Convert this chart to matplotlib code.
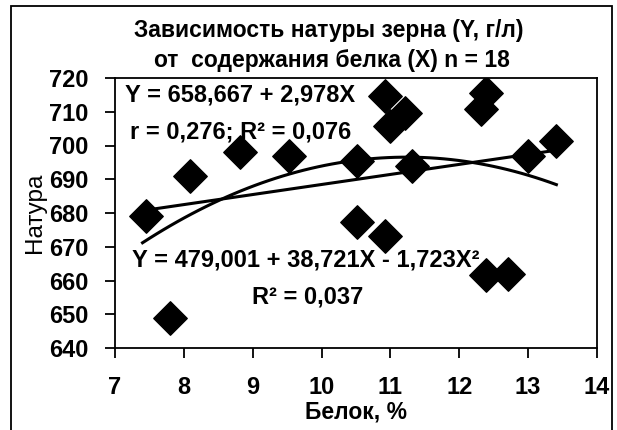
import numpy as np
import matplotlib
matplotlib.use("Agg")
import matplotlib.pyplot as plt
from matplotlib.patches import Rectangle

plt.rcParams['font.family'] = ['Liberation Sans', 'DejaVu Sans']

# protein content, % (X) and grain test weight, g/l (Y)
protein = [7.45, 7.8, 8.09, 8.81, 9.52, 10.51, 10.51, 10.92, 10.92,
           10.99, 11.21, 11.31, 12.32, 12.39, 12.39, 12.71, 13.0, 13.41]
natura = [679, 649, 691, 698, 697, 695.5, 677.3, 714.6, 673.3,
          705.8, 709.7, 694, 710.7, 715.6, 661.5, 662, 697, 701.4]

# trendline coefficients as printed on the chart
lin_coef = [658.667, 2.978]
quad_coef = [479.001, 38.721, -1.723]

title_lines = ["Зависимость натуры зерна (Y, г/л)", "от  содержания белка (X) n = 18"]
lin_text = ["Y = 658,667 + 2,978X", "r = 0,276; R² = 0,076"]
quad_text = ["Y = 479,001 + 38,721X - 1,723X²", "R² = 0,037"]

W, H = 617, 430
fig = plt.figure(figsize=(W / 100, H / 100), dpi=100)
ax = fig.add_axes([115 / W, 1 - 348 / H, (597 - 115) / W, (348 - 78) / H])

# outer chart frame
fig.patches.append(Rectangle((11 / W, -0.1), (612 - 11) / W, 1.1 - 6 / H,
                             transform=fig.transFigure, fill=False,
                             edgecolor="black", linewidth=1.3))

ax.scatter(protein, natura, marker="D", s=290, color="black", zorder=3)

xs = np.linspace(min(protein) - 0.05, max(protein), 60)
ax.plot(xs, np.polynomial.polynomial.polyval(xs, lin_coef), color="black", lw=2.2)
ax.plot(xs, np.polynomial.polynomial.polyval(xs, quad_coef), color="black", lw=2.2)

ax.set_xlim(7, 14)
ax.set_ylim(640, 720)
ax.set_xticks(range(7, 15))
ax.set_yticks(range(640, 721, 10))
ax.tick_params(axis="x", direction="out", length=7, width=1.3, pad=13, labelsize=17)
ax.tick_params(axis="y", direction="out", length=7, width=1.3, pad=12, labelsize=17)
for lab in ax.get_xticklabels() + ax.get_yticklabels():
    lab.set_fontweight("bold")
for sp in ax.spines.values():
    sp.set_linewidth(1.3)

ax.set_xlabel("Белок, %", fontsize=16.5, fontweight="bold", labelpad=1)
ax.set_ylabel("Натура", fontsize=17.5, labelpad=2)

fig.text(329 / W, 1 - 30 / H, title_lines[0], ha="center", va="center",
         fontsize=16.5, fontweight="bold")
fig.text(332 / W, 1 - 61 / H, title_lines[1], ha="center", va="center",
         fontsize=16.5, fontweight="bold")

ax.text(0.021, 0.937, lin_text[0], transform=ax.transAxes, ha="left", va="center",
        fontsize=17, fontweight="bold")
ax.text(0.031, 0.80, lin_text[1], transform=ax.transAxes, ha="left", va="center",
        fontsize=17, fontweight="bold")
ax.text(0.035, 0.326, quad_text[0], transform=ax.transAxes, ha="left", va="center",
        fontsize=17, fontweight="bold")
ax.text(0.284, 0.189, quad_text[1], transform=ax.transAxes, ha="left", va="center",
        fontsize=17, fontweight="bold")

fig.savefig("out.png", dpi=100)
